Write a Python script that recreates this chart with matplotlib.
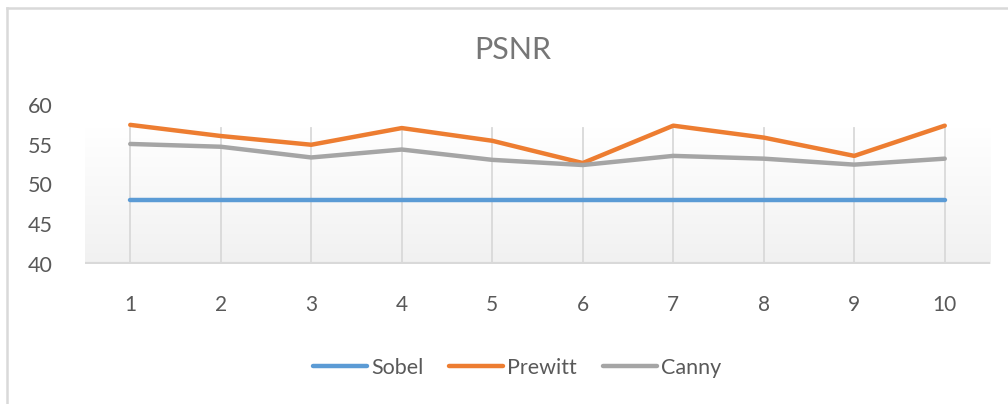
import matplotlib
matplotlib.use("Agg")
import matplotlib.pyplot as plt
import numpy as np
from matplotlib.lines import Line2D
from matplotlib.colors import LinearSegmentedColormap

categories = [1, 2, 3, 4, 5, 6, 7, 8, 9, 10]
sobel = [48.1, 48.1, 48.1, 48.1, 48.1, 48.1, 48.1, 48.1, 48.1, 48.1]
prewitt = [57.5, 56.1, 55.0, 57.1, 55.5, 52.7, 57.4, 55.9, 53.6, 57.4]
canny = [55.1, 54.75, 53.4, 54.4, 53.1, 52.45, 53.6, 53.25, 52.5, 53.25]
yticks = [40, 45, 50, 55, 60]
title = "PSNR"
series_names = ["Sobel", "Prewitt", "Canny"]
colors = ["#5b9bd5", "#ed7d31", "#a5a5a5"]

plt.rcParams['font.family'] = ['Lato', 'DejaVu Sans']
W, H = 1008, 404
fig = plt.figure(figsize=(W/100, H/100), dpi=100)

# chart border (left and top visible)
fig.add_artist(Line2D([7/W, 7/W], [0, 1 - 8/H], transform=fig.transFigure, color="#d9d9d9", lw=1.8))
fig.add_artist(Line2D([7/W, 1], [1 - 8/H, 1 - 8/H], transform=fig.transFigure, color="#d9d9d9", lw=1.8))

ax = fig.add_axes([85/W, 1 - 264/H, (990-85)/W, (264-105)/H])
ax.set_xlim(0.5, 10.5)
ax.set_ylim(40, 60)
for s in ax.spines.values():
    s.set_visible(False)
ax.patch.set_alpha(0)

wall_top = 57.15
grad = np.linspace(0, 1, 100).reshape(-1, 1)
cmap = LinearSegmentedColormap.from_list("w", ["#f1f1f1", "#ffffff"])
ax.imshow(grad, extent=[0.5, 10.5, 40, wall_top], origin="lower", aspect="auto", cmap=cmap, zorder=0)

for x in categories:
    ax.plot([x, x], [40, wall_top], color="#d9d9d9", lw=1.3, zorder=1)
ax.plot([0.5, 10.5], [40.1, 40.1], color="#d9d9d9", lw=1.6, zorder=1)

for vals, c, n in zip([sobel, prewitt, canny], colors, series_names):
    ax.plot(categories, vals, color=c, lw=3.2, label=n, solid_capstyle="round", solid_joinstyle="round", zorder=3)

ax.set_xticks(categories)
ax.set_xticklabels([str(c) for c in categories])
ax.set_yticks(yticks)
ax.tick_params(axis="x", length=0, pad=22, labelsize=15, labelcolor="#595959")
ax.tick_params(axis="y", length=0, pad=23, labelsize=15.5, labelcolor="#595959")

fig.text(513/W, 1 - 50/H, title, ha="center", va="center", fontsize=22, color="#767676")

handles = [Line2D([0], [0], color=c, lw=3.2, solid_capstyle="round") for c in colors]
leg = fig.legend(handles, series_names, loc="center", bbox_to_anchor=(517/W, 1 - 368/H), ncol=3,
                 frameon=False, fontsize=15.5, handlelength=2.5, handletextpad=0.2, columnspacing=1.2)
for t in leg.get_texts():
    t.set_color("#595959")

fig.savefig("out.png", dpi=100, facecolor="white")
